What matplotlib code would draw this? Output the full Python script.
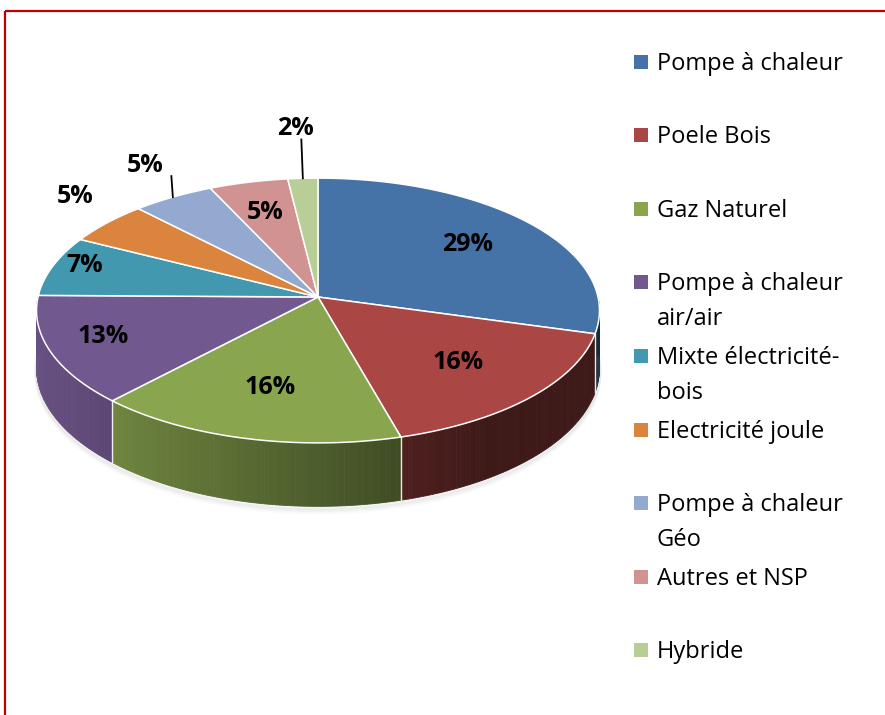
import numpy as np
import matplotlib
matplotlib.use("Agg")
import matplotlib.pyplot as plt
from matplotlib.patches import Polygon, Rectangle
import matplotlib.colors as mcolors

# ---------------- data ----------------
categories = ["Pompe à chaleur", "Poele Bois", "Gaz Naturel", "Pompe à chaleur air/air",
              "Mixte électricité-bois", "Electricité joule", "Pompe à chaleur Géo",
              "Autres et NSP", "Hybride"]
legend_labels = ["Pompe à chaleur", "Poele Bois", "Gaz Naturel", "Pompe à chaleur\nair/air",
                 "Mixte électricité-\nbois", "Electricité joule", "Pompe à chaleur\nGéo",
                 "Autres et NSP", "Hybride"]
values = [29.4, 16.3, 16.2, 13.3, 7.4, 5.3, 5.2, 5.0, 1.9]
colors = ["#4572A7", "#AA4643", "#89A54E", "#71588F", "#4198AF",
          "#DB843D", "#93A9CF", "#D19392", "#B9CD96"]

# ---------------- layout ----------------
label_pos = [(0.71, 0.71), (0.66, 0.65), (0.65, 0.64), (0.80, 0.74), (0.88, 1.03),
             (1.15, 1.36), (1.19, 1.32), (0.76, 0.74), (1.47, 1.42)]
leader = [False, False, False, False, False, False, True, False, True]

FONT = ["Open Sans", "DejaVu Sans"]
plt.rcParams['font.family'] = FONT

W, H = 885, 715
fig = plt.figure(figsize=(W / 100, H / 100), dpi=100)
ax = fig.add_axes([0, 0, 1, 1])
ax.set_xlim(0, W)
ax.set_ylim(H, 0)
ax.axis("off")

cx, cy = 318, 297
R, Ry, K, D = 280, 131, 0.102, 57


def proj(theta, r=1.0, z=0.0):
    t = np.radians(theta)
    s = 1.0 / (1.0 + K * r * np.sin(t))
    x = cx + R * r * np.cos(t) * s
    y = cy - Ry * r * np.sin(t) * s + z * D * s
    return x, y


def shade(theta):
    c = np.cos(np.radians(theta))
    return float(np.clip(0.56 - 0.36 * c, 0.36, 0.9))


total = sum(values)
cum = np.concatenate([[0], np.cumsum(values)])
starts = 90 - 360 * cum[:-1] / total
ends = 90 - 360 * cum[1:] / total

# shadow under pie
for off, al in [(6, 0.04), (4, 0.06), (2, 0.08)]:
    ts = np.linspace(-180, 0, 200)
    xs, ys = proj(ts, 1.0, 1.0)
    ax.plot(xs, ys + off, color="gray", alpha=al, lw=3, solid_capstyle="round")

# side faces (front half only)
for i in range(len(values)):
    a0, a1 = starts[i], ends[i]  # a0 > a1
    lo, hi = max(a1, -180), min(a0, 0)
    if hi <= lo:
        continue
    base = np.array(mcolors.to_rgb(colors[i]))
    n = max(2, int((hi - lo) / 0.7))
    edges = np.linspace(hi, lo, n + 1)
    for j in range(n):
        ta, tb = edges[j], edges[j + 1]
        xa, ya = proj(ta)
        xb, yb = proj(tb)
        xa2, ya2 = proj(ta, 1.0, 1.0)
        xb2, yb2 = proj(tb, 1.0, 1.0)
        col = base * shade((ta + tb) / 2)
        ax.add_patch(Polygon([(xa, ya), (xb, yb), (xb2, yb2), (xa2, ya2)],
                             closed=True, facecolor=col, edgecolor=col, lw=0.6))
# white separators on side
for t in list(starts) + [ends[-1]]:
    tt = ((t + 180) % 360) - 180
    if -180 < tt < 0:
        x1, y1 = proj(tt)
        x2, y2 = proj(tt, 1.0, 1.0)
        ax.plot([x1, x2], [y1, y2], color="white", lw=1.0, alpha=0.9)

# top faces
for i in range(len(values)):
    ts = np.linspace(starts[i], ends[i], 120)
    xs, ys = proj(ts)
    pts = [(cx, cy)] + list(zip(xs, ys))
    ax.add_patch(Polygon(pts, closed=True, facecolor=colors[i], edgecolor="white",
                         lw=1.1, joinstyle="round"))

# percentage labels
for i, v in enumerate(values):
    mid = (starts[i] + ends[i]) / 2
    ex, ey = proj(mid)
    lx = cx + (ex - cx) * label_pos[i][0]
    ly = cy + (ey - cy) * label_pos[i][1]
    ax.text(lx, ly, f"{round(v)}%", ha="center", va="center", fontsize=18,
            fontweight="bold", color="black")
    if leader[i]:
        ax.plot([ex, ex - 1.5], [ey, ly + 11], color="black", lw=1.3)

# legend
for i, lab in enumerate(legend_labels):
    y0 = 61.5 + 73.6 * i
    ax.add_patch(Rectangle((634, y0 - 7), 14, 14, facecolor=colors[i], edgecolor="none"))
    for j, line in enumerate(lab.split("\n")):
        ax.text(657, y0 + 8 + 35 * j, line, ha="left", va="baseline", fontsize=17,
                color="black")

# border
ax.add_patch(Rectangle((5, 11), 900, 720, facecolor="none", edgecolor="#C00000", lw=1.6))

fig.savefig("out.png", dpi=100)
